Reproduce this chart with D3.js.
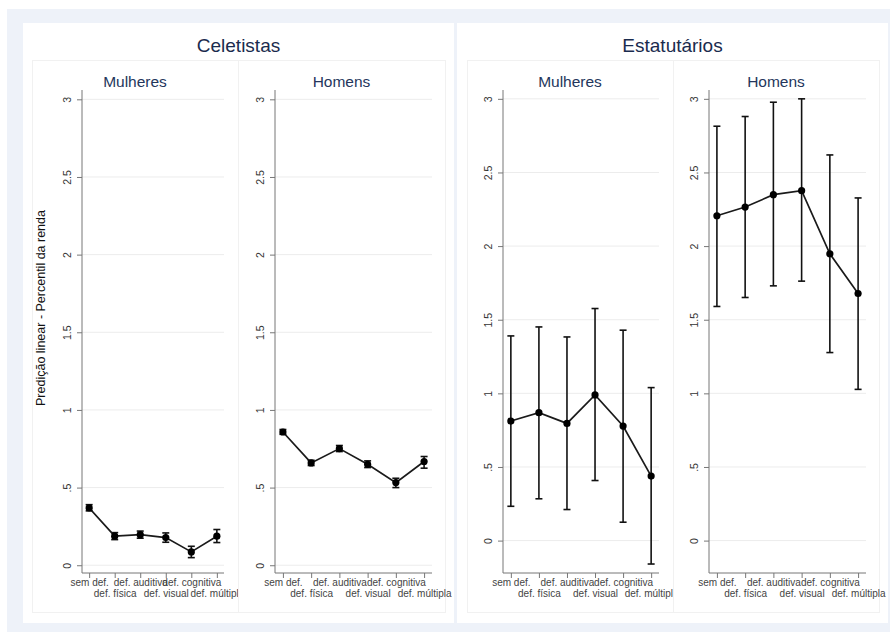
<!DOCTYPE html>
<html>
<head>
<meta charset="utf-8">
<script src="https://cdn.jsdelivr.net/npm/d3@7"></script>
<style>
  body { margin: 0; background: #fff; }
  svg { display: block; font-family: "Liberation Sans", Arial, sans-serif; }
</style>
</head>
<body>
<div id="app"></div>
<script>
// Categories (x axis)
const categories = ['sem def.', 'def. física', 'def. auditiva', 'def. visual', 'def. cognitiva', 'def. múltipla'];
const yTicks = [0, 0.5, 1, 1.5, 2, 2.5, 3];

// Celetistas - Mulheres
const celMulheres   = [0.369, 0.187, 0.197, 0.178, 0.086, 0.187];
const celMulheresLo = [0.350, 0.165, 0.174, 0.148, 0.049, 0.146];
const celMulheresHi = [0.390, 0.210, 0.220, 0.208, 0.122, 0.230];

// Celetistas - Homens
const celHomens   = [0.858, 0.659, 0.751, 0.650, 0.532, 0.668];
const celHomensLo = [0.843, 0.642, 0.732, 0.629, 0.500, 0.625];
const celHomensHi = [0.874, 0.676, 0.771, 0.672, 0.560, 0.700];

// Estatutários - Mulheres
const estMulheres   = [0.812, 0.869, 0.796, 0.989, 0.778, 0.438];
const estMulheresLo = [0.233, 0.284, 0.211, 0.408, 0.125, -0.159];
const estMulheresHi = [1.390, 1.451, 1.383, 1.576, 1.429, 1.039];

// Estatutários - Homens
const estHomens   = [2.206, 2.265, 2.349, 2.376, 1.948, 1.678];
const estHomensLo = [1.590, 1.651, 1.730, 1.762, 1.277, 1.027];
const estHomensHi = [2.814, 2.880, 2.977, 3.000, 2.619, 2.327];

const W = 890, H = 632;
const svg = d3.select('#app').append('svg').attr('width', W).attr('height', H);

// background + outer panels
svg.append('rect').attr('x', 7).attr('y', 9).attr('width', W - 7).attr('height', H - 9).attr('fill', '#eef2f9');
const groups = [
  {title: 'Celetistas', x0: 23, x1: 454},
  {title: 'Estatutários', x0: 457, x1: 888}
];
groups.forEach(g => {
  svg.append('rect').attr('x', g.x0).attr('y', 23).attr('width', g.x1 - g.x0).attr('height', 600)
    .attr('fill', '#fff');
  svg.append('text').attr('x', (g.x0 + g.x1) / 2).attr('y', 52)
    .attr('text-anchor', 'middle').attr('font-size', 19).attr('fill', '#1a2b4e').text(g.title);
});

const panels = [
  {sub: 'Mulheres', box: [32, 238], clip: 238, xr: [82, 224], yd: [-0.05, 3.06], v: celMulheres, lo: celMulheresLo, hi: celMulheresHi},
  {sub: 'Homens', box: [238, 445], clip: 454, xr: [275, 432], yd: [-0.05, 3.06], v: celHomens, lo: celHomensLo, hi: celHomensHi},
  {sub: 'Mulheres', box: [467, 673], clip: 673, xr: [503, 659], yd: [-0.22, 3.06], v: estMulheres, lo: estMulheresLo, hi: estMulheresHi},
  {sub: 'Homens', box: [673, 879], clip: 888, xr: [709, 866], yd: [-0.22, 3.06], v: estHomens, lo: estHomensLo, hi: estHomensHi}
];

const plotTop = 90, plotBottom = 573;

panels.forEach((p, i) => {
  // subpanel box
  svg.append('rect').attr('x', p.box[0] + 0.5).attr('y', 60.5)
    .attr('width', p.box[1] - p.box[0]).attr('height', 552)
    .attr('fill', '#fff').attr('stroke', '#f1f1f1');

  const clipId = 'clip' + i;
  svg.append('clipPath').attr('id', clipId).append('rect')
    .attr('x', p.box[0]).attr('y', 0).attr('width', p.clip - p.box[0]).attr('height', H);
  const g = svg.append('g').attr('clip-path', `url(#${clipId})`);

  g.append('text').attr('x', (p.box[0] + p.box[1]) / 2).attr('y', 87)
    .attr('text-anchor', 'middle').attr('font-size', 15.5).attr('fill', '#24365c').text(p.sub);

  const x = d3.scaleLinear().domain([0.72, 6.28]).range(p.xr);
  const y = d3.scaleLinear().domain(p.yd).range([plotBottom, plotTop]);

  // gridlines
  g.append('g').selectAll('line').data(yTicks).join('line')
    .attr('x1', p.xr[0]).attr('x2', p.xr[1])
    .attr('y1', d => y(d)).attr('y2', d => y(d))
    .attr('stroke', '#ececec').attr('stroke-width', 1);

  // y axis
  const yAxis = g.append('g').attr('transform', `translate(${p.xr[0]},0)`)
    .call(d3.axisLeft(y).tickValues(yTicks).tickSize(5).tickPadding(4)
      .tickFormat(d => d === 0 ? '0' : String(d).replace(/^0/, '')));
  yAxis.attr('font-family', null);
  yAxis.select('.domain').attr('stroke', '#777').attr('d', `M0,${plotBottom}V${plotTop}`);
  yAxis.selectAll('.tick line').attr('stroke', '#777');
  yAxis.selectAll('.tick text')
    .attr('font-size', 10.5).attr('fill', '#333')
    .attr('transform', 'rotate(-90)')
    .attr('x', 0).attr('y', -15).attr('dy', '0.35em')
    .attr('text-anchor', 'middle');

  // x axis
  const xAxis = g.append('g').attr('transform', `translate(0,${plotBottom})`)
    .call(d3.axisBottom(x).tickValues(d3.range(1, 7)).tickSize(5).tickFormat(d => categories[d - 1]));
  xAxis.attr('font-family', null);
  xAxis.select('.domain').attr('stroke', '#777').attr('d', `M${p.xr[0]},0H${p.xr[1]}`);
  xAxis.selectAll('.tick line').attr('stroke', '#777');
  xAxis.selectAll('.tick text')
    .attr('font-size', 10).attr('fill', '#444')
    .attr('y', (d, k) => k % 2 === 0 ? 6 : 17).attr('dy', '0.71em');

  // error bars
  const idx = d3.range(categories.length);
  const eb = g.append('g').attr('stroke', '#111').attr('stroke-width', 1.6);
  eb.selectAll('.v').data(idx).join('line')
    .attr('x1', k => x(k + 1)).attr('x2', k => x(k + 1))
    .attr('y1', k => y(p.lo[k])).attr('y2', k => y(p.hi[k]));
  ['lo', 'hi'].forEach(key => {
    eb.selectAll('.c' + key).data(idx).join('line')
      .attr('x1', k => x(k + 1) - 3.5).attr('x2', k => x(k + 1) + 3.5)
      .attr('y1', k => y(p[key][k])).attr('y2', k => y(p[key][k]));
  });

  // connecting line
  g.append('path').datum(idx)
    .attr('fill', 'none').attr('stroke', '#1a1a1a').attr('stroke-width', 1.7)
    .attr('d', d3.line().x(k => x(k + 1)).y(k => y(p.v[k])));

  // markers
  g.append('g').selectAll('circle').data(idx).join('circle')
    .attr('cx', k => x(k + 1)).attr('cy', k => y(p.v[k])).attr('r', 3.6)
    .attr('fill', '#000');
});

// y axis title
svg.append('text')
  .attr('transform', 'translate(41,308) rotate(-90)')
  .attr('text-anchor', 'middle').attr('dy', '0.35em')
  .attr('font-size', 12.5).attr('fill', '#111')
  .text('Predição linear - Percentil da renda');
</script>
</body>
</html>
